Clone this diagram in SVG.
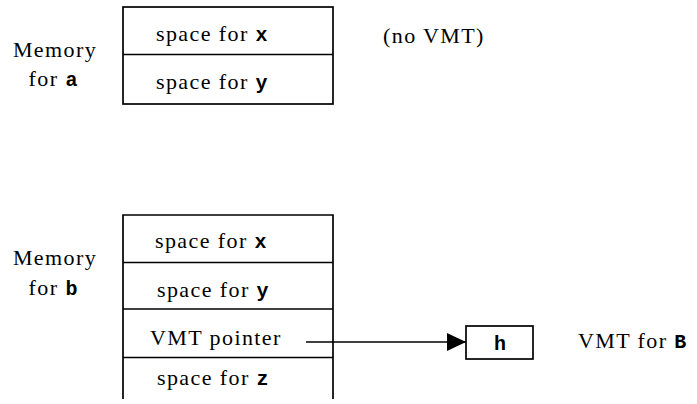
<svg xmlns="http://www.w3.org/2000/svg" width="697" height="404" viewBox="0 0 697 404">
<style>
.t{font-family:"Liberation Serif","Times New Roman",serif;font-size:22px;letter-spacing:1.4px;fill:#000}
.m{font-family:"Liberation Mono","Courier New",monospace;font-weight:bold;font-size:20px;letter-spacing:0}
.b{fill:#fff;stroke:#000;stroke-width:1.7}
.l{stroke:#000;stroke-width:1.7;fill:none}
</style>
<defs>
<marker id="ah" markerWidth="20" markerHeight="20" refX="19" refY="9" orient="auto" markerUnits="userSpaceOnUse">
<path d="M0,0 L19,9 L0,18 Z" fill="#000"/>
</marker>
</defs>
<g id="labelA">
<text class="t" x="55" y="57" text-anchor="middle">Memory</text>
<text class="t" x="53" y="86" text-anchor="middle">for <tspan class="m">a</tspan></text>
</g>
<g id="memA">
<rect class="b" x="123" y="7" width="210" height="97"/>
<line class="l" x1="123" y1="54.5" x2="333" y2="54.5"/>
<text class="t" x="156" y="41">space for <tspan class="m">x</tspan></text>
<text class="t" x="156" y="89">space for <tspan class="m">y</tspan></text>
</g>
<g id="noVMT">
<text class="t" x="383" y="43">(no VMT)</text>
</g>
<g id="labelB">
<text class="t" x="55" y="265" text-anchor="middle">Memory</text>
<text class="t" x="53" y="295" text-anchor="middle">for <tspan class="m">b</tspan></text>
</g>
<g id="memB">
<path class="l" d="M123,399 V215 H333 V399"/>
<line class="l" x1="123" y1="262.5" x2="333" y2="262.5"/>
<line class="l" x1="123" y1="309" x2="333" y2="309"/>
<line class="l" x1="123" y1="357.5" x2="333" y2="357.5"/>
<text class="t" x="155" y="248">space for <tspan class="m">x</tspan></text>
<text class="t" x="157" y="296.5">space for <tspan class="m">y</tspan></text>
<text class="t" x="150" y="345">VMT pointer</text>
<text class="t" x="157" y="385">space for <tspan class="m">z</tspan></text>
</g>
<g id="vmtB">
<rect class="b" x="466" y="326" width="67" height="33"/>
<text class="t m" x="500" y="350" text-anchor="middle">h</text>
<text class="t" x="578" y="348">VMT for <tspan class="m">B</tspan></text>
</g>
<g id="connectors">
<line class="l" x1="306" y1="342" x2="466" y2="342" marker-end="url(#ah)"/>
</g>
</svg>
